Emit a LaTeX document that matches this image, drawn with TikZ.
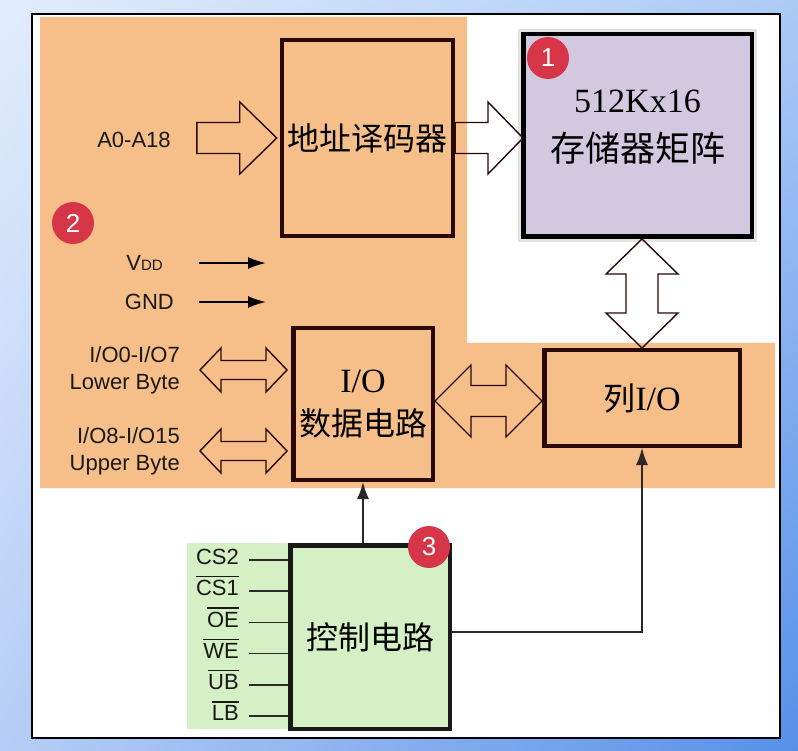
\documentclass[tikz,border=0pt]{standalone}
\usepackage{fontspec}
\setmainfont{Liberation Sans}
\newfontfamily\cjk{Noto Sans CJK SC}
\newfontfamily\boxlatin{Liberation Serif}
\usetikzlibrary{arrows.meta,calc,shadings}

\definecolor{skylight}{RGB}{226,237,252}
\definecolor{skymidA}{RGB}{172,202,246}
\definecolor{skymidB}{RGB}{182,206,246}
\definecolor{skydark}{RGB}{86,144,232}
\definecolor{panelorange}{RGB}{246,190,136}
\definecolor{boxline}{RGB}{40,8,8}
\definecolor{memfill}{RGB}{210,201,224}
\definecolor{ctrlfill}{RGB}{213,240,196}
\definecolor{badgered}{RGB}{214,54,72}
\definecolor{wireline}{RGB}{45,40,40}

\newcommand{\ovl}[1]{\vbox{\hrule height 1.3pt\kern 3pt\hbox{#1}}}

% hollow block arrows: tail, tip, shaft half, head half, head length
\newcommand{\hollowright}[5]{%
  \draw[hollow] let \p1=#1, \p2=#2 in
    (\x1,\y2+#3) -- (\x2-#5,\y2+#3) -- (\x2-#5,\y2+#4) -- (\x2,\y2)
    -- (\x2-#5,\y2-#4) -- (\x2-#5,\y2-#3) -- (\x1,\y2-#3) -- cycle;}
\newcommand{\hollowboth}[5]{%
  \draw[hollow] let \p1=#1, \p2=#2, \p3=($#1!.5!#2$) in
    (\x1,\y3) -- (\x1+#5,\y3+#4) -- (\x1+#5,\y3+#3) -- (\x2-#5,\y3+#3)
    -- (\x2-#5,\y3+#4) -- (\x2,\y3) -- (\x2-#5,\y3-#4) -- (\x2-#5,\y3-#3)
    -- (\x1+#5,\y3-#3) -- (\x1+#5,\y3-#4) -- cycle;}
\newcommand{\hollowvert}[5]{%
  \draw[hollow] let \p1=#1, \p2=#2 in
    (\x1,\y1) -- (\x1+#4,\y1-#5) -- (\x1+#3,\y1-#5) -- (\x1+#3,\y2+#5)
    -- (\x1+#4,\y2+#5) -- (\x1,\y2) -- (\x1-#4,\y2+#5) -- (\x1-#3,\y2+#5)
    -- (\x1-#3,\y1-#5) -- (\x1-#4,\y1-#5) -- cycle;}

\tikzset{
  block/.style={draw=boxline, line width=4.5pt, inner sep=0pt, align=center},
  cjktext/.style={font=\cjk\fontsize{32}{43}\selectfont},
  hollow/.style={draw=boxline, line width=1.4pt, line join=miter},
  badge/.style={circle, fill=badgered, text=white, minimum size=42pt, inner sep=0pt,
    font=\fontsize{26}{26}\selectfont},
  sidelabel/.style={font=\fontsize{22}{27}\selectfont, inner sep=0pt, text=black!90},
  pinlabel/.style={sidelabel, anchor=mid east},
  wire/.style={draw=wireline, line width=1.5pt},
  feed/.style={wire, -{Latex[length=17pt,width=12pt]}},
  power/.style={draw=black, line width=1.8pt, -{Latex[length=18pt,width=12pt]}},
}

\begin{document}
\begin{tikzpicture}[x=1pt,y=-1pt]
\useasboundingbox (0,0) rectangle (798,751);
% background and panels
\shade[upper left=skylight, upper right=skymidA, lower left=skymidB, lower right=skydark]
  (0,0) rectangle (798,751);
\draw[black, line width=1.5pt, fill=white] (32,14) rectangle (780,738);
\fill[panelorange] (40,17) -- (467,17) -- (467,343) -- (775,343) -- (775,488) -- (40,488) -- cycle;
\fill[ctrlfill] (187,543) rectangle (288,729);

% blocks
\node[block, cjktext, minimum width=171pt, minimum height=196pt] (dec) at (367.5,138) {地址译码器};
\draw[gray!22, line width=10pt] (523.25,34.25) rectangle (751.75,236.75);
\node[block, draw=black, fill=memfill, minimum width=228.5pt, minimum height=202.5pt] (mem) at (637.5,135.5) {};
\node[align=center, font=\cjk\fontsize{35}{49}\selectfont] (memtext) at ([yshift=8pt]mem.center)
  {{\boxlatin\fontsize{34}{34}\selectfont 512Kx16}\\存储器矩阵};
\node[block, cjktext, minimum width=195.5pt, minimum height=95.5pt] (col) at (642,398)
  {列{\boxlatin\fontsize{34}{34}\selectfont I/O}};
\node[block, cjktext, minimum width=139.5pt, minimum height=151.5pt] (io) at (363,404)
  {{\boxlatin\fontsize{34}{34}\selectfont I/O}\\数据电路};
\node[block, cjktext, draw=black!90, fill=ctrlfill, minimum width=159.5pt, minimum height=183.5pt] (ctrl) at (370,637)
  {控制电路};

% badges
\node[badge] (b1) at (548,58) {1};
\node[badge] (b2) at (73,223) {2};
\node[badge] (b3) at (429,547) {3};

% left labels
\node[sidelabel] (addrlab) at (134,140) {A0-A18};
\node[sidelabel, anchor=east] (vddlab) at (163,263) {V{\fontsize{15}{15}\selectfont DD}};
\node[sidelabel, anchor=east] (gndlab) at (174,302) {GND};
\node[sidelabel, anchor=east, align=right] (lowlab) at (180,370) {I/O0-I/O7\\Lower Byte};
\node[sidelabel, anchor=east, align=right] (uplab) at (180,451) {I/O8-I/O15\\Upper Byte};
\coordinate (vddend) at (266,263);
\coordinate (gndend) at (266,302);

% block arrows
\hollowright{([xshift=26pt]addrlab.east)}{([xshift=-3pt]dec.west)}{15.5pt}{36pt}{37pt}
\hollowright{(dec.east)}{([xshift=2pt]mem.west |- dec.east)}{15.5pt}{36pt}{35pt}
\hollowvert{(col.north |- mem.south)}{(col.north)}{16pt}{36pt}{35pt}
\hollowboth{(io.east)}{(col.west)}{15.5pt}{36pt}{36pt}
\hollowboth{([xshift=20pt]lowlab.east)}{([xshift=-4pt]io.west |- lowlab.east)}{9.5pt}{22pt}{21pt}
\hollowboth{([xshift=20pt]uplab.east)}{([xshift=-4pt]io.west |- uplab.east)}{9.5pt}{22pt}{21pt}

% power pins
\draw[power, shorten <=36pt] (vddlab.east) -- (vddend);
\draw[power, shorten <=25pt] (gndlab.east) -- (gndend);

% control pins
\foreach \sig [count=\i from 0] in {CS2,\ovl{CS1},\ovl{OE},\ovl{WE},\ovl{UB},\ovl{LB}} {
  \node[pinlabel] (pin\i) at (239,562+31.2*\i) {\sig};
  \draw[wire] ([xshift=10pt,yshift=2pt]pin\i.mid east) -- ([yshift=2pt]pin\i.mid east -| ctrl.west);
}

% control lines
\draw[feed] (io.south |- ctrl.north) -- (io.south);
\draw[feed] ([yshift=5pt]ctrl.east) -| (col.south);
\end{tikzpicture}
\end{document}
